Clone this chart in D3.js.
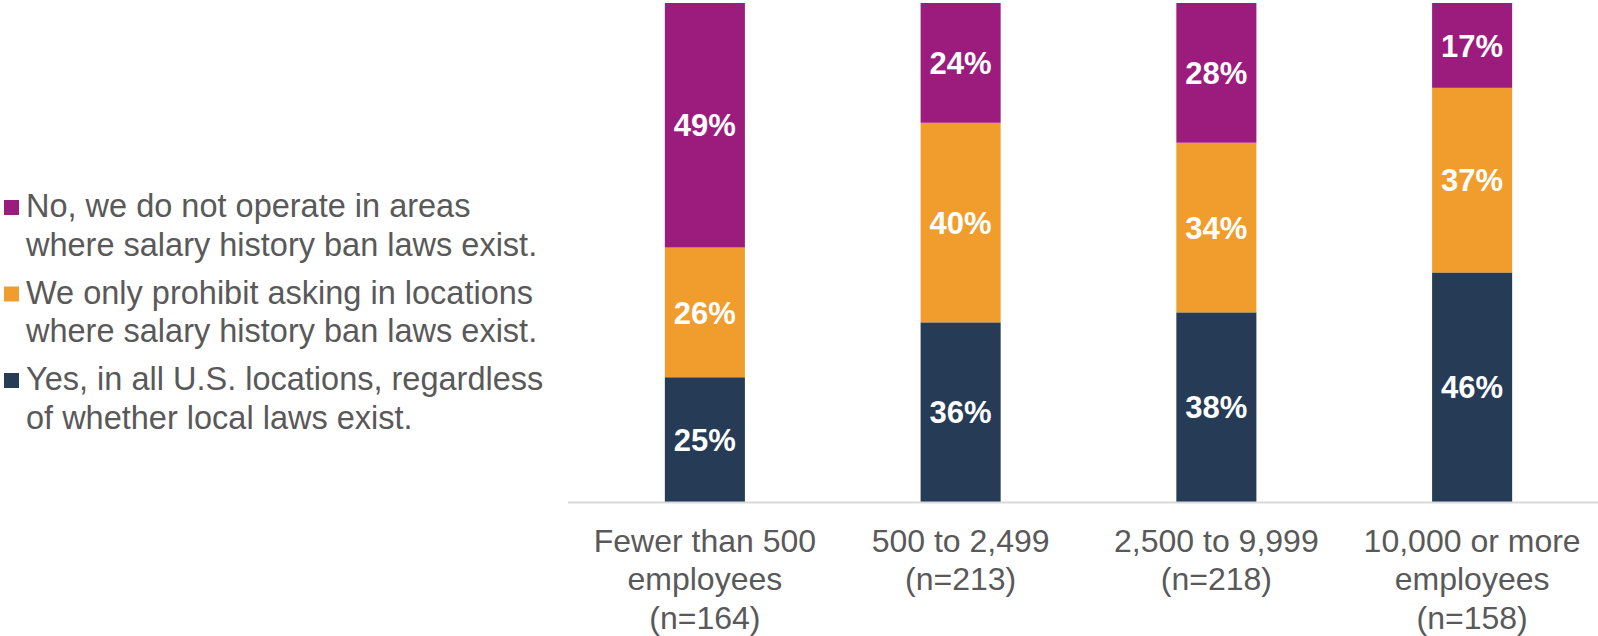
<!DOCTYPE html>
<html>
<head>
<meta charset="utf-8">
<script src="https://cdn.jsdelivr.net/npm/d3@7"></script>
<style>
  html, body { margin: 0; padding: 0; background: #fff; }
  svg { display: block; font-family: "Liberation Sans", Arial, sans-serif; }
</style>
</head>
<body>
<svg id="chart" width="1598" height="636"></svg>
<script>
// Company size groups (x-axis label lines)
const categories = ["small", "mid", "large", "xlarge"];
const categoryLabels = [
  ["Fewer than 500", "employees", "(n=164)"],
  ["500 to 2,499", "(n=213)"],
  ["2,500 to 9,999", "(n=218)"],
  ["10,000 or more", "employees", "(n=158)"]
];

// Series, stacked bottom to top (percent of respondents)
const seriesKeys = ["yes", "only", "no"];
const yesAll = [25, 36, 38, 46];
const onlyLocal = [26, 40, 34, 37];
const noOperate = [49, 24, 28, 17];

// Legend entries, listed top to bottom
const legendItems = [
  { key: "no", lines: ["No, we do not operate in areas", "where salary history ban laws exist."] },
  { key: "only", lines: ["We only prohibit asking in locations", "where salary history ban laws exist."] },
  { key: "yes", lines: ["Yes, in all U.S. locations, regardless", "of whether local laws exist."] }
];

const colors = { yes: "#253B56", only: "#F09D2E", no: "#9B1C7D" };
const textGray = "#595959";

const rows = categories.map((c, i) => ({
  category: c, yes: yesAll[i], only: onlyLocal[i], no: noOperate[i]
}));

const svg = d3.select("#chart");

const x = d3.scaleBand()
  .domain(categories)
  .range([577, 1600])
  .paddingInner(0.687)
  .paddingOuter(0.687 / 2);

const y = d3.scaleLinear().domain([0, 100]).range([502, 3]);

const stacked = d3.stack().keys(seriesKeys)(rows);

// Stacked bars
const layers = svg.append("g")
  .selectAll("g")
  .data(stacked)
  .join("g")
  .attr("fill", d => colors[d.key]);

layers.selectAll("rect")
  .data(d => d.map(v => ({ v, key: d.key })))
  .join("rect")
  .attr("x", d => x(d.v.data.category))
  .attr("width", x.bandwidth())
  .attr("y", d => y(d.v[1]))
  .attr("height", d => y(d.v[0]) - y(d.v[1]));

// Value labels centred in each segment
layers.selectAll("text")
  .data(d => d.map(v => ({ v, key: d.key })))
  .join("text")
  .attr("x", d => x(d.v.data.category) + x.bandwidth() / 2)
  .attr("y", d => (y(d.v[0]) + y(d.v[1])) / 2)
  .attr("dy", "0.36em")
  .attr("text-anchor", "middle")
  .attr("fill", "#ffffff")
  .attr("font-weight", "bold")
  .attr("font-size", 31)
  .text(d => d.v.data[d.key] + "%");

// Baseline
svg.append("line")
  .attr("x1", 568).attr("x2", 1598)
  .attr("y1", y(0) + 0.5).attr("y2", y(0) + 0.5)
  .attr("stroke", "#D9D9D9")
  .attr("stroke-width", 2);

// Category labels
const catG = svg.append("g")
  .attr("font-size", 32)
  .attr("fill", textGray)
  .attr("text-anchor", "middle");

catG.selectAll("text")
  .data(categories)
  .join("text")
  .attr("x", d => x(d) + x.bandwidth() / 2)
  .attr("y", 552)
  .each(function (d, i) {
    d3.select(this).selectAll("tspan")
      .data(categoryLabels[i])
      .join("tspan")
      .attr("x", x(d) + x.bandwidth() / 2)
      .attr("dy", (t, j) => j === 0 ? 0 : 38.4)
      .text(t => t);
  });

// Legend
const legend = svg.append("g");
const legendRow = legend.selectAll("g")
  .data(legendItems)
  .join("g")
  .attr("transform", (d, i) => `translate(0, ${217 + i * 86.5})`);

legendRow.append("rect")
  .attr("x", 4)
  .attr("y", -17)
  .attr("width", 15)
  .attr("height", 15)
  .attr("fill", d => colors[d.key]);

legendRow.append("text")
  .attr("font-size", 32.5)
  .attr("fill", textGray)
  .selectAll("tspan")
  .data(d => d.lines)
  .join("tspan")
  .attr("x", 26)
  .attr("y", (t, j) => j * 38.8)
  .text(t => t);
</script>
</body>
</html>
